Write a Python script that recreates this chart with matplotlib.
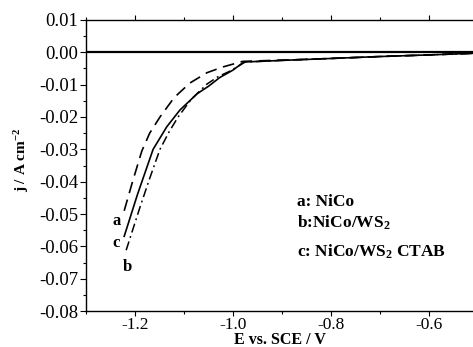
import matplotlib
matplotlib.use("Agg")
import matplotlib.pyplot as plt
from matplotlib.ticker import MultipleLocator

# Curve a: NiCo (dashed)
Ea = [-1.222, -1.205, -1.186, -1.170, -1.149, -1.120, -1.088, -1.053, -1.020, -0.980, -0.90, -0.80, -0.70, -0.60, -0.51]
ja = [-0.0490, -0.0400, -0.0305, -0.0250, -0.0200, -0.0140, -0.0095, -0.0063, -0.0045, -0.0028, -0.0024, -0.0019, -0.0013, -0.0008, -0.0003]
# Curve b: NiCo/WS2 (dash-dot)
Eb = [-1.218, -1.190, -1.170, -1.149, -1.130, -1.112, -1.085, -1.053, -1.030, -1.006, -0.975, -0.90, -0.80, -0.70, -0.60, -0.51]
jb = [-0.0612, -0.0480, -0.0390, -0.0300, -0.0245, -0.0200, -0.0145, -0.0098, -0.0075, -0.0058, -0.0030, -0.0025, -0.0019, -0.0013, -0.0008, -0.0003]
# Curve c: NiCo/WS2 CTAB (solid)
Ec = [-1.222, -1.195, -1.163, -1.135, -1.108, -1.073, -1.050, -1.027, -1.000, -0.978, -0.90, -0.80, -0.70, -0.60, -0.51]
jc = [-0.0569, -0.0440, -0.0300, -0.0230, -0.0178, -0.0128, -0.0105, -0.0078, -0.0055, -0.0030, -0.0025, -0.0019, -0.0013, -0.0008, -0.0003]

xlim = (-1.3, -0.51)
ylim = (-0.08, 0.01)
xticks = [-1.2, -1.0, -0.8, -0.6]
xticklabels = ["-1.2", "-1.0", "-0.8", "-0.6"]
yticks = [0.01, 0.0, -0.01, -0.02, -0.03, -0.04, -0.05, -0.06, -0.07, -0.08]
yticklabels = ["0.01", "0.00", "-0.01", "-0.02", "-0.03", "-0.04", "-0.05", "-0.06", "-0.07", "-0.08"]

plt.rcParams['font.family'] = ['Liberation Serif', 'DejaVu Serif']
plt.rcParams['mathtext.fontset'] = 'custom'
plt.rcParams['mathtext.rm'] = 'Liberation Serif'
plt.rcParams['mathtext.bf'] = 'Liberation Serif:bold'
plt.rcParams['mathtext.it'] = 'Liberation Serif:italic'

fig = plt.figure(figsize=(4.73, 3.47), dpi=100)
ax = fig.add_axes([0.1818, 0.1037, 0.8182, 0.8387])

ax.axhline(0.0, color='black', lw=1.6, zorder=1)
ax.plot(Ea, ja, color='black', lw=1.2, dashes=(7, 4))
ax.plot(Eb, jb, color='black', lw=1.1, dashes=(6, 2.5, 1.2, 2.5))
ax.plot(Ec, jc, color='black', lw=1.2, ls='-')

ax.set_xlim(*xlim)
ax.set_ylim(*ylim)
ax.set_xticks(xticks)
ax.set_xticklabels(xticklabels)
ax.set_yticks(yticks)
ax.set_yticklabels(yticklabels)
ax.xaxis.set_minor_locator(MultipleLocator(0.1))
ax.yaxis.set_minor_locator(MultipleLocator(0.005))
ax.tick_params(axis='y', which='major', labelsize=13.5, direction='out', length=4, width=0.8, pad=1.5)
ax.tick_params(axis='x', which='major', labelsize=12.5, direction='out', length=3.5, width=0.8, pad=1)
ax.tick_params(axis='both', which='minor', direction='out', length=2.5, width=0.8)
ax.tick_params(axis='x', which='both', top=True)
ax.spines['right'].set_visible(False)
for s in ['left', 'bottom', 'top']:
    ax.spines[s].set_linewidth(1.0)

ax.set_xlabel("E vs. SCE / V", fontsize=11.5, fontweight='bold', va='center')
ax.xaxis.set_label_coords(0.5, -0.099)
ax.set_ylabel(r"j / A cm$^{\mathbf{-2}}$", fontsize=11, fontweight='bold', va='center')
ax.yaxis.set_label_coords(-0.166, 0.519)

ax.text(-1.237, -0.0522, "a", fontsize=12, fontweight='bold', ha='center', va='center')
ax.text(-1.238, -0.0590, "c", fontsize=12, fontweight='bold', ha='center', va='center')
ax.text(-1.215, -0.0664, "b", fontsize=12, fontweight='bold', ha='center', va='center')

ax.text(-0.869, -0.0463, "a: NiCo", fontsize=12.5, fontweight='bold', ha='left', va='center')
ax.text(-0.869, -0.0528, r"b:NiCo/WS$_{\mathbf{2}}$", fontsize=12.5, fontweight='bold', ha='left', va='center')
ax.text(-0.869, -0.0618, r"c: NiCo/WS$_{\mathbf{2}}$ CTAB", fontsize=12.5, fontweight='bold', ha='left', va='center')

fig.savefig("out.png", dpi=100)
